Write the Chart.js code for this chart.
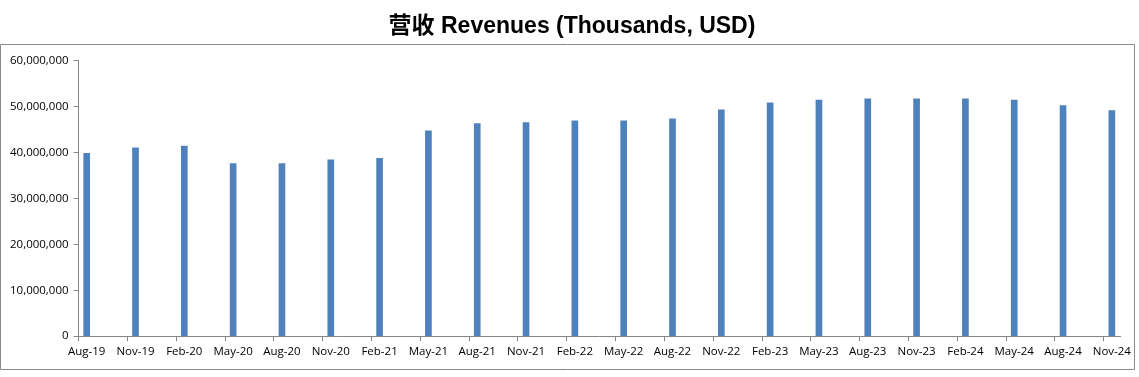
<!DOCTYPE html>
<html><head><meta charset="utf-8">
<script src="https://cdn.jsdelivr.net/npm/chart.js@4/dist/chart.umd.min.js"></script>
<style>html,body{margin:0;padding:0;background:#fff}#wrap{width:1139px;height:377px;position:relative}</style>
</head><body><div id="wrap"><canvas id="c" width="1139" height="377"></canvas></div>
<script>
const categories = ['Aug-19','Nov-19','Feb-20','May-20','Aug-20','Nov-20','Feb-21','May-21','Aug-21','Nov-21','Feb-22','May-22','Aug-22','Nov-22','Feb-23','May-23','Aug-23','Nov-23','Feb-24','May-24','Aug-24','Nov-24'];
const revenues = [39.8e6,41.0e6,41.4e6,37.6e6,37.6e6,38.4e6,38.7e6,44.7e6,46.3e6,46.5e6,46.9e6,46.9e6,47.3e6,49.3e6,50.8e6,51.4e6,51.7e6,51.7e6,51.7e6,51.4e6,50.2e6,49.1e6];
const yTicks = [0,10e6,20e6,30e6,40e6,50e6,60e6];
const titleText = '营收 Revenues (Thousands, USD)';

const AXIS = '#868686';
const borderPlugin = {
  id: 'frame',
  afterLayout(chart) {
    const t = chart.titleBlock;
    if (t) { t.left += 9.5; t.right += 9.5; }
  },
  beforeDraw(chart) {
    const ctx = chart.ctx;
    ctx.save();
    ctx.fillStyle = '#fff';
    ctx.fillRect(0, 0, chart.width, chart.height);
    ctx.strokeStyle = '#8a8a8a';
    ctx.lineWidth = 1;
    ctx.beginPath();
    ctx.moveTo(0.5, 44.5); ctx.lineTo(1134.5, 44.5); ctx.lineTo(1134.5, 369.5); ctx.lineTo(0.5, 369.5); ctx.closePath();
    ctx.stroke();
    ctx.restore();
  }
};

new Chart(document.getElementById('c'), {
  type: 'bar',
  data: {
    datasets: [{
      data: revenues.map((v, i) => ({ x: i, y: v })),
      backgroundColor: '#4F81BD',
      barThickness: 6
    }]
  },
  plugins: [borderPlugin],
  options: {
    responsive: false,
    animation: false,
    layout: { padding: { left: 5, right: 19, top: 0, bottom: 14 } },
    plugins: {
      legend: { display: false },
      tooltip: { enabled: false },
      title: {
        display: true,
        text: titleText,
        color: '#000',
        font: { family: "'Liberation Sans','Noto Sans CJK SC'", size: 23, weight: 'bold' },
        padding: { top: 13, bottom: 20 }
      }
    },
    scales: {
      x: {
        type: 'linear',
        offset: false,
        min: -1/6,
        max: categories.length - 1 + 1/6,
        afterBuildTicks: (s) => { s.ticks = categories.map((c, i) => ({ value: i - 1/6 })); },
        ticks: {
          callback: (v, i) => categories[i],
          autoSkip: false, maxRotation: 0, minRotation: 0,
          labelOffset: 8.1,
          padding: 4,
          color: '#000',
          font: { family: "'Open Sans'", size: 11.5 }
        },
        grid: { display: true, offset: false, drawOnChartArea: false, drawTicks: true, tickLength: 5, color: AXIS },
        border: { display: true, color: AXIS }
      },
      y: {
        min: 0, max: 60e6,
        afterBuildTicks: (s) => { s.ticks = yTicks.map(v => ({ value: v })); },
        ticks: {
          callback: (v) => v.toLocaleString('en-US'),
          padding: 5,
          color: '#000',
          font: { family: "'Open Sans'", size: 11.5 }
        },
        grid: { display: true, drawOnChartArea: false, drawTicks: true, tickLength: 5, color: AXIS },
        border: { display: true, color: AXIS }
      }
    }
  }
});
</script></body></html>
